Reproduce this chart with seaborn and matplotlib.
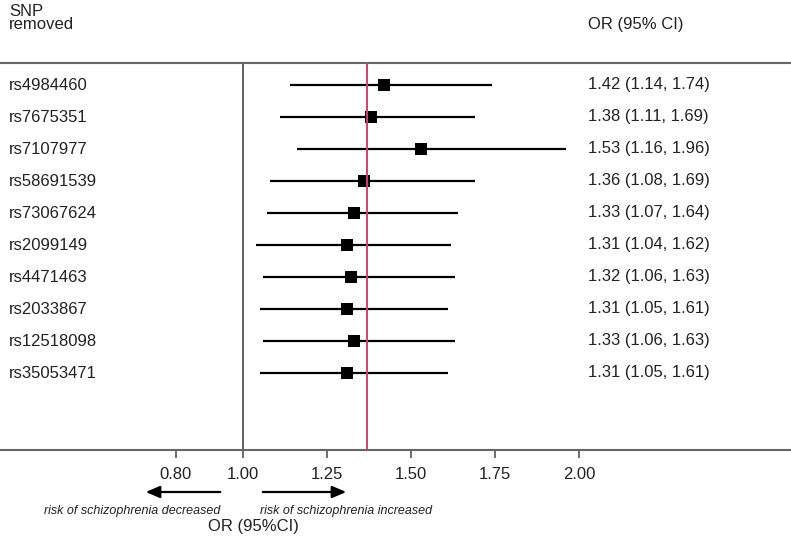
import matplotlib
matplotlib.use('Agg')
import matplotlib.pyplot as plt
import pandas as pd
import seaborn as sns

snps = ['rs4984460', 'rs7675351', 'rs7107977', 'rs58691539', 'rs73067624',
        'rs2099149', 'rs4471463', 'rs2033867', 'rs12518098', 'rs35053471']
odds = [1.42, 1.38, 1.53, 1.36, 1.33, 1.31, 1.32, 1.31, 1.33, 1.31]
lower = [1.14, 1.11, 1.16, 1.08, 1.07, 1.04, 1.06, 1.05, 1.06, 1.05]
upper = [1.74, 1.69, 1.96, 1.69, 1.64, 1.62, 1.63, 1.61, 1.63, 1.61]
pooled_or = 1.37
tick_values = [0.80, 1.00, 1.25, 1.50, 1.75, 2.00]
tick_labels = ['0.80', '1.00', '1.25', '1.50', '1.75', '2.00']

df = pd.DataFrame({'snp': snps, 'or': odds, 'lo': lower, 'hi': upper})
df['row'] = range(len(df))

sns.set_theme(style='white')
plt.rcParams['font.family'] = ['Liberation Sans', 'DejaVu Sans']

W, H = 791, 543
fig = plt.figure(figsize=(W / 100, H / 100), dpi=100)
ax = fig.add_axes([0, (H - 450) / H, 1, (450 - 62.5) / H])

# confidence intervals and point estimates
ax.hlines(df['row'], df['lo'], df['hi'], color='black', lw=1.6, zorder=2)
sns.scatterplot(data=df, x='or', y='row', marker='s', s=64, color='black',
                edgecolor='black', linewidth=0, ax=ax, zorder=3)

ax.axvline(1.0, color='#444444', lw=1.2, zorder=1)
ax.axvline(pooled_or, color='#d0406e', lw=1.4, zorder=4)

ax.set_xlim(1 - 243 / 336, 1 + 548 / 336)
ax.set_ylim(9 + 77 / 32, -22.5 / 32)
ax.set_yticks([])
ax.set_xticks(tick_values)
ax.set_xticklabels(tick_labels)
ax.tick_params(axis='x', direction='out', length=6, width=1.2, colors='#555555',
               labelcolor='#222222', labelsize=12, pad=6, bottom=True)
ax.set_xlabel('')
ax.set_ylabel('')
for side in ['left', 'right']:
    ax.spines[side].set_visible(False)
for side in ['top', 'bottom']:
    ax.spines[side].set_color('#666666')
    ax.spines[side].set_linewidth(1.5)

# text columns
trans = ax.get_yaxis_transform()
for i, row in df.iterrows():
    ax.text(9 / W, row['row'], row['snp'], transform=trans, va='center',
            ha='left', fontsize=12, color='#222222')
    ax.text(588 / W, row['row'],
            f"{row['or']:.2f} ({row['lo']:.2f}, {row['hi']:.2f})",
            transform=trans, va='center', ha='left', fontsize=12, color='#222222')

fig.text(9 / W, 1 - 4 / H, 'SNP\nremoved', fontsize=12, va='top', ha='left',
         linespacing=0.85, color='#222222')
fig.text(588 / W, 1 - 25 / H, 'OR (95% CI)', fontsize=12, va='center', ha='left', color='#222222')

# direction arrows
arrow = dict(arrowstyle='-|>,head_length=0.7,head_width=0.3', color='black', lw=1.6)
ax.annotate('', xy=(143 / W, 1 - 492 / H), xytext=(223 / W, 1 - 492 / H),
            xycoords='figure fraction', textcoords='figure fraction', arrowprops=arrow)
ax.annotate('', xy=(349 / W, 1 - 492 / H), xytext=(260 / W, 1 - 492 / H),
            xycoords='figure fraction', textcoords='figure fraction', arrowprops=arrow)
fig.text(220 / W, 1 - 511 / H, 'risk of schizophrenia decreased', style='italic',
         fontsize=9, ha='right', va='center', color='#222222')
fig.text(260 / W, 1 - 511 / H, 'risk of schizophrenia increased', style='italic',
         fontsize=9, ha='left', va='center', color='#222222')
fig.text(253 / W, 1 - 526 / H, 'OR (95%CI)', fontsize=12, ha='center', va='center',
         color='#222222')

fig.savefig('out.png', dpi=100)
